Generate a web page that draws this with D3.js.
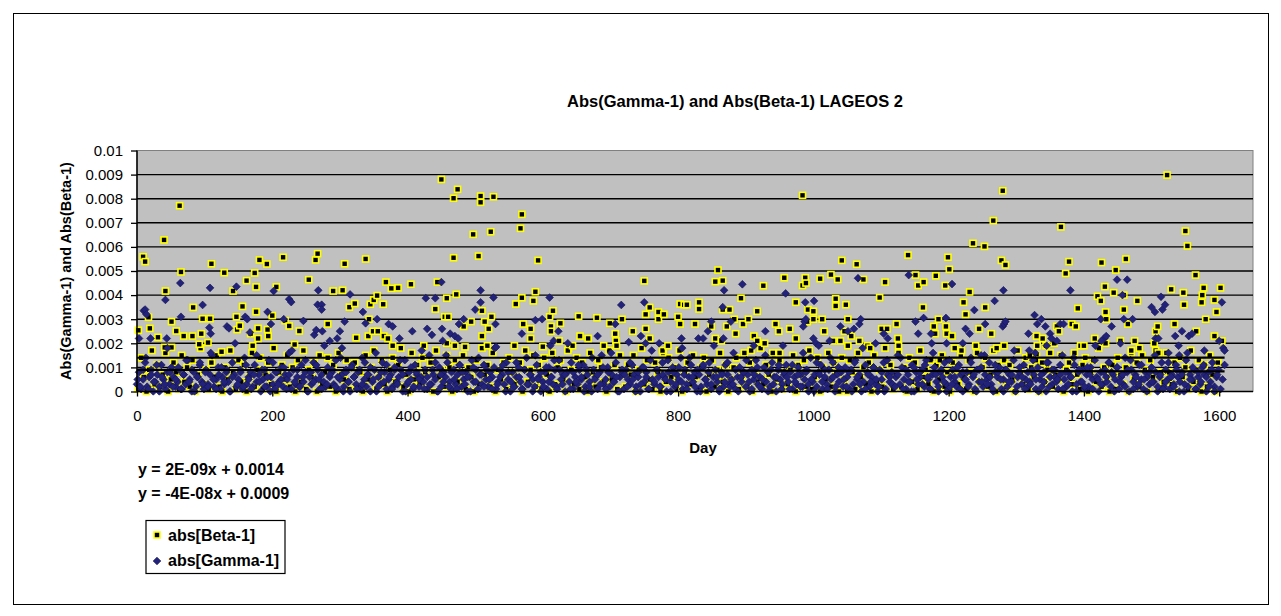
<!DOCTYPE html>
<html><head><meta charset="utf-8">
<script src="https://cdn.jsdelivr.net/npm/d3@7"></script>
<style>body{margin:0;background:#fff}svg{display:block}text{font-family:"Liberation Sans",Arial,sans-serif}</style>
</head><body>
<svg id="chart" width="1281" height="616"></svg>
<script>
// ---------- DATA ----------
const chartTitle = "Abs(Gamma-1) and Abs(Beta-1) LAGEOS 2";
const xTitle = "Day";
const yTitle = "Abs(Gamma-1) and Abs(Beta-1)";
const xTicks = [0,200,400,600,800,1000,1200,1400,1600];
const yTicks = [0,0.001,0.002,0.003,0.004,0.005,0.006,0.007,0.008,0.009,0.01];
const yTickLabels = ["0","0.001","0.002","0.003","0.004","0.005","0.006","0.007","0.008","0.009","0.01"];
const seriesNames = ["abs[Beta-1]","abs[Gamma-1]"];
const trendEquations = ["y = 2E-09x + 0.0014","y = -4E-08x + 0.0009"];
const betaTrend = [2e-9, 0.0014];
const gammaTrend = [-4e-8, 0.0009];

// abs[Beta-1] — clearly readable points (day, value)
const betaHigh = [[2,0.00254],[9,0.00559],[12,0.00539],[17,0.00308],[19,0.00262],[31,0.00225],[40,0.00629],[41,0.00183],[42,0.00417],[51,0.0029],[51,0.00183],[58,0.00251],[63,0.00771],[65,0.00496],[69,0.0023],[82,0.0023],[83,0.00349],[92,0.00196],[95,0.0024],[97,0.00302],[105,0.00203],[108,0.00302],[110,0.0053],[125,0.00165],[129,0.00493],[142,0.00417],[147,0.0031],[148,0.00257],[152,0.00273],[156,0.00353],[162,0.0046],[168,0.0024],[171,0.0019],[174,0.00492],[176,0.00434],[176,0.00331],[179,0.00262],[179,0.0022],[181,0.00546],[192,0.00529],[193,0.00257],[194,0.0023],[200,0.00315],[206,0.00434],[216,0.00557],[219,0.00294],[225,0.00272],[233,0.00195],[240,0.00251],[254,0.00464],[264,0.00546],[267,0.00572],[282,0.0028],[290,0.00417],[304,0.0042],[307,0.0053],[314,0.0035],[322,0.00365],[324,0.00223],[338,0.0055],[342,0.0023],[343,0.003],[345,0.00362],[349,0.0025],[350,0.0038],[355,0.00398],[356,0.0025],[364,0.00362],[365,0.0023],[368,0.00454],[371,0.0022],[376,0.00428],[378,0.0019],[386,0.0043],[405,0.00445],[424,0.0019],[441,0.00342],[444,0.00454],[450,0.0088],[455,0.0031],[458,0.00387],[458,0.002],[460,0.0031],[468,0.00802],[468,0.00555],[470,0.0019],[472,0.00403],[474,0.00839],[483,0.0027],[485,0.00185],[494,0.0029],[497,0.00652],[505,0.00562],[508,0.00811],[508,0.00785],[510,0.00335],[510,0.0023],[514,0.0029],[518,0.0019],[520,0.0026],[523,0.00663],[524,0.0031],[527,0.00808],
[558,0.0019],[560,0.00363],[567,0.00677],[569,0.00735],[569,0.00389],[571,0.0028],[582,0.0026],[582,0.0022],[586,0.00376],[589,0.00414],[593,0.00544],[600,0.00186],[610,0.0031],[612,0.0027],[612,0.0025],[615,0.00335],[624,0.0021],[626,0.00283],[637,0.0017],[644,0.0019],[653,0.00312],[655,0.0023],[667,0.0022],[680,0.00306],[690,0.0019],[699,0.00283],[707,0.0024],[708,0.0021],[709,0.0019],[717,0.003],[733,0.0025],[750,0.00459],[752,0.0032],[752,0.0026],[758,0.00349],[758,0.0022],[771,0.0033],[771,0.003],[777,0.0017],[779,0.0032],[785,0.0019],[800,0.0031],[803,0.00363],[803,0.0028],[809,0.0036],
[813,0.0036],[825,0.0028],[831,0.0037],[831,0.00342],[849,0.0027],[855,0.00456],[855,0.0022],[859,0.00504],[864,0.0021],[866,0.0046],[866,0.0034],[872,0.0027],[876,0.0034],[883,0.003],[885,0.0024],[893,0.00387],[896,0.0028],[904,0.003],[908,0.0017],[912,0.0023],[917,0.00333],[917,0.0021],[926,0.00439],[928,0.002],[940,0.0016],[944,0.0028],[949,0.0025],[950,0.0016],[957,0.00472],[965,0.0026],[974,0.0037],[974,0.0022],[984,0.00814],[984,0.0044],[988,0.00472],[989,0.0045],[991,0.0029],[992,0.0034],[1000,0.00333],[1000,0.003],[1010,0.00468],[1013,0.003],[1016,0.0025],[1026,0.00485],[1029,0.0021],[1033,0.00385],[1033,0.00355],[1036,0.00465],[1040,0.0021],[1042,0.00544],[1046,0.0025],[1048,0.0036],[1051,0.003],[1051,0.0019],[1056,0.0023],[1064,0.00528],[1068,0.0021],[1074,0.00465],[1080,0.0019],[1084,0.0018],
[1098,0.0039],[1101,0.0026],[1106,0.00454],[1109,0.0026],[1123,0.0028],[1125,0.0022],[1126,0.0019],[1140,0.00566],[1151,0.00483],[1155,0.0044],[1162,0.00349],[1163,0.00454],[1178,0.0027],[1180,0.0024],[1181,0.0048],[1185,0.003],[1187,0.0013],[1195,0.0044],[1196,0.0027],[1197,0.0024],[1198,0.0013],[1199,0.00557],[1201,0.00507],[1205,0.0023],[1209,0.0018],[1219,0.0017],[1222,0.0037],[1225,0.0032],[1231,0.00413],[1236,0.00615],[1240,0.0019],[1245,0.0026],[1253,0.00602],[1254,0.00349],[1263,0.0024],[1266,0.00709],[1271,0.0018],[1278,0.00544],[1280,0.00833],[1282,0.0019],[1284,0.00525],[1320,0.0015],[1329,0.0013],[1330,0.0023],[1331,0.0019],[1339,0.0022],[1344,0.0019],[1356,0.002],[1360,0.0027],[1363,0.0025],
[1366,0.00683],[1373,0.0049],[1378,0.00539],[1382,0.0028],[1388,0.0027],[1391,0.00345],[1395,0.0019],[1400,0.0019],[1416,0.0022],[1420,0.00395],[1425,0.00376],[1426,0.00535],[1431,0.00435],[1432,0.0033],[1432,0.002],[1433,0.003],[1444,0.0041],[1447,0.00504],[1454,0.0021],[1459,0.004],[1459,0.0034],[1462,0.0055],[1465,0.0028],[1470,0.0017],[1475,0.0021],[1479,0.00376],[1482,0.0018],[1504,0.002],[1506,0.0025],[1509,0.0027],[1510,0.0016],[1523,0.00898],[1529,0.00424],[1534,0.0028],[1547,0.0041],[1548,0.0036],[1550,0.00666],[1553,0.00604],[1565,0.00483],[1566,0.0025],[1574,0.0037],[1575,0.004],[1577,0.0043],[1580,0.003],[1593,0.0038],[1593,0.0023],[1596,0.0033],[1602,0.0043],[1604,0.0021]];

// abs[Gamma-1] — clearly readable points (day, value)
const gammaHigh = [[3,0.0022],[10,0.00335],[12,0.0034],[14,0.0032],[20,0.0022],[42,0.0038],[44,0.0022],[64,0.0045],[65,0.0031],[97,0.00359],[107,0.00265],[108,0.0043],[109,0.0024],[133,0.0027],[136,0.00262],[147,0.00435],[160,0.0031],[163,0.003],[167,0.00245],[193,0.0033],[198,0.0028],[202,0.00417],[217,0.003],[225,0.00383],[228,0.00371],[246,0.00293],[262,0.00235],[265,0.00255],[268,0.0042],[267,0.0036],[273,0.0036],[273,0.0034],[274,0.0025],[285,0.0021],[296,0.0022],[300,0.0025],[303,0.0018],[307,0.0029],[315,0.00403],[334,0.0033],[338,0.00283],[355,0.003],[372,0.0028],[378,0.0027],[388,0.0022],[407,0.0025],[427,0.00387],[429,0.0026],[436,0.00235],[441,0.00387],[450,0.00454],[451,0.0026],[452,0.0021],[463,0.0024],[470,0.0023],[475,0.0022],[476,0.0028],[483,0.003],[500,0.0034],[508,0.0042],[508,0.0037],[527,0.0039],[530,0.0028],[531,0.00185],
[569,0.0024],[589,0.00296],[599,0.003],[610,0.0039],[611,0.0019],[616,0.0021],[623,0.0025],[681,0.0023],[707,0.0028],[716,0.00359],[727,0.00205],[745,0.0023],[750,0.0037],[752,0.002],[772,0.002],[805,0.0022],[806,0.0018],
[830,0.0022],[837,0.0022],[844,0.0025],[849,0.0029],[866,0.0035],[867,0.0022],[868,0.0042],[878,0.0029],[895,0.00445],[912,0.0019],[929,0.0025],[955,0.0019],[959,0.00407],[985,0.0027],[987,0.0029],[988,0.0037],[989,0.003],[1001,0.00376],[1000,0.0022],[1004,0.002],[1008,0.0019],[1024,0.0021],[1040,0.0027],[1051,0.0025],[1060,0.0026],[1066,0.0047],[1068,0.0028],[1070,0.003],
[1092,0.002],[1104,0.0024],[1110,0.0022],[1141,0.00483],[1151,0.0029],[1155,0.0024],[1163,0.00305],[1174,0.0024],[1175,0.002],[1196,0.00305],[1197,0.002],[1205,0.00446],[1221,0.002],[1225,0.0026],[1231,0.0024],[1238,0.00338],[1248,0.0015],[1254,0.0028],[1268,0.00376],[1280,0.0027],[1282,0.0028],[1284,0.0029],[1281,0.0042],[1318,0.0024],[1319,0.0017],[1327,0.00317],[1328,0.0016],[1331,0.0028],[1337,0.003],[1343,0.0027],[1345,0.0019],[1350,0.0024],[1352,0.0022],[1360,0.0021],[1365,0.0028],[1370,0.0028],[1380,0.0042],[1425,0.003],[1430,0.0022],[1426,0.0021],[1433,0.0023],[1441,0.0027],[1449,0.00464],[1454,0.002],[1457,0.004],[1459,0.003],[1464,0.00464],[1472,0.003],[1500,0.0035],[1505,0.0033],[1506,0.0022],[1510,0.0022],[1514,0.00393],[1516,0.0034],[1520,0.0036],[1525,0.0016],[1535,0.0023],[1540,0.0019],[1541,0.0015],[1545,0.0025],[1555,0.0023],[1560,0.0024],[1578,0.0017],[1600,0.0021],[1604,0.0037],[1606,0.0018],[1608,0.0017]];

// dense low band, read as evenly spaced days, in units of 1e-4
const gammaLowStep = 3, gammaLowStart = 0;
const gammaLow = [3,8,1,5,12,2,6,9,0,4,7,2,11,5,1,8,3,10,6,2,
4,9,1,7,3,13,5,0,8,2,6,11,4,1,9,3,7,15,2,5,
10,1,6,3,8,4,0,12,7,2,5,9,1,14,3,6,8,2,11,4,
7,0,5,9,2,13,6,3,1,8,4,10,2,7,5,16,1,9,3,6,
2,11,4,8,0,6,3,12,5,9,1,7,4,2,10,6,8,3,13,1,
5,7,2,9,4,0,11,6,3,8,1,14,5,2,7,10,4,9,0,6,
3,12,8,1,5,7,2,10,4,6,9,0,13,3,8,5,1,11,7,2,
6,4,9,1,15,3,7,5,0,10,2,8,6,12,4,1,9,3,7,11,
2,5,8,0,6,13,4,9,1,7,3,11,5,2,8,6,10,1,4,9,
7,3,12,5,0,8,2,6,10,4,1,9,14,3,7,5,2,11,6,0,
4,8,1,10,6,3,9,2,13,5,7,0,8,4,12,1,6,3,9,5,
11,2,7,4,0,9,6,1,8,15,3,5,10,2,7,4,12,0,6,8,
1,9,5,3,11,7,2,6,0,10,4,8,1,13,5,3,9,6,2,12,
6,0,8,4,10,2,7,5,14,1,9,3,6,11,4,8,0,7,2,10,
5,3,12,1,6,9,4,0,8,2,11,7,3,5,16,1,6,10,4,8,
2,7,0,9,5,13,3,6,1,10,4,8,2,12,6,0,9,5,3,7,
11,4,8,1,6,3,10,7,2,5,9,0,14,4,7,2,8,11,1,6,
3,9,5,12,0,7,4,8,2,10,6,1,9,3,13,5,7,0,4,11,
8,2,6,10,3,0,9,5,12,1,7,4,8,2,6,15,3,10,5,1,
7,4,11,0,8,3,6,9,2,13,5,1,7,10,4,0,8,6,12,3,
1,6,9,4,2,11,7,0,5,8,3,14,6,1,9,4,10,2,7,5,
12,3,0,8,6,10,1,5,9,2,7,4,13,0,6,8,3,11,5,2,
4,9,7,1,10,5,2,8,0,12,6,3,9,4,1,7,15,5,2,8,
6,0,11,3,8,4,9,1,7,2,10,5,13,6,0,8,3,9,4,12,
2,7,5,10,1,6,3,14,8,0,9,4,7,2,11,5,1,8,6,3,
10,4,8,0,6,12,2,9,5,1,7,3,11,6,4,8,0,13,2,7,
5,9,1,6,3,10,7,0,8,4,12,2,6,9,1,5,11];
const gammaLow2Step = 4, gammaLow2Start = 1;
const gammaLow2 = [5,2,9,14,1,7,4,11,0,6,3,18,8,2,5,10,1,7,13,4,
9,0,6,12,3,8,2,16,5,1,7,10,4,9,0,6,20,3,8,2,
11,5,1,7,15,4,9,2,6,0,12,8,3,5,10,1,7,17,4,9,
2,6,13,0,8,4,11,5,1,19,3,7,9,2,6,14,0,8,4,10,
6,1,9,3,12,7,0,5,16,2,8,4,11,6,1,9,3,13,7,0,
4,10,2,8,5,17,1,6,3,9,12,0,7,4,15,2,8,5,1,11,
8,3,6,0,10,4,14,7,2,9,5,1,18,3,6,11,0,8,4,2,
12,6,1,9,3,7,0,15,5,8,2,10,4,6,13,1,9,3,7,20,
1,8,4,11,6,0,9,2,14,5,7,3,10,1,8,16,4,6,0,9,
7,2,12,5,0,8,3,10,6,1,17,4,9,2,7,5,13,0,8,3,
10,4,7,1,14,6,2,9,0,11,5,8,3,19,6,1,7,4,12,2,
3,9,0,6,8,13,4,1,7,10,2,5,15,0,9,3,6,11,1,8,
6,1,11,4,7,2,16,8,3,5,0,12,7,4,9,1,14,6,2,10,
9,5,2,8,0,12,6,3,18,1,7,4,10,5,2,8,0,13,6,3,
2,7,14,1,9,4,0,10,5,8,3,11,6,1,16,7,2,9,4,0,
13,3,6,10,1,8,5,2,12,7,0,9,4,15,3,6,1,11,8,5,
0,9,4,7,17,2,10,6,1,8,3,13,5,0,7,4,12,2,9,6,
5,11,1,8,3,6,14,0,9,4,2,10,7,1,19,5,3,8,6,12,
8,0,10,4,7,2,9,13,1,6,3,11,5,0,8,4,15,2,7,1,
4,12,6,2,9,0,7,3,16,5,10,1,8,4,11,6,2,9,0,7];
const betaLowStep = 4, betaLowStart = 2;
const betaLow = [1,14,6,0,9,17,3,11,2,7,16,0,5,12,8,1,15,4,10,2,
13,0,7,18,3,9,1,12,6,15,2,0,10,5,17,8,1,13,4,11,
0,6,16,2,9,14,1,7,12,3,18,0,8,11,5,15,2,10,0,13,
4,17,1,9,6,12,0,15,3,8,14,2,11,0,16,7,5,13,1,10,
12,2,8,0,15,5,10,17,1,6,13,3,0,9,14,4,11,18,2,7,
0,16,5,11,3,14,8,1,12,0,17,6,9,2,15,10,0,13,4,8,
15,1,10,6,0,13,3,18,7,11,2,16,0,9,5,12,1,14,8,3,
6,12,0,17,4,9,15,2,11,1,14,7,0,16,3,10,13,5,0,18,
9,3,14,1,12,6,0,16,8,2,13,10,4,0,17,5,11,1,15,7,
2,11,7,15,0,9,18,3,13,5,1,12,8,0,16,4,14,6,10,1,
17,0,8,12,3,15,6,1,10,14,0,7,13,2,9,16,4,11,0,5,
10,14,1,6,16,2,12,0,9,4,18,3,11,7,0,15,5,13,1,8,
3,9,15,0,11,7,13,2,17,1,6,14,0,10,5,16,2,12,8,0,
14,5,0,13,8,1,16,6,10,3,12,0,15,4,9,2,18,7,11,1,
7,16,2,10,0,14,4,12,1,17,6,9,3,13,0,11,5,15,2,8,
0,12,9,3,15,6,1,13,8,0,16,4,10,14,2,7,17,0,11,5,
13,2,11,5,0,17,8,3,14,1,10,6,15,0,12,4,9,16,2,7,
5,15,0,9,12,3,16,7,1,11,14,0,8,13,4,18,2,10,6,0,
11,1,14,7,3,10,0,16,5,12,2,15,9,0,13,6,17,1,8,4,
16,8,3,12,0,14,6,10,1,17,4,9,13,0,11,2,15,7,0,12];

// ---------- BUILD ----------
const beta = betaLow.map((v,i)=>[betaLowStart+i*betaLowStep, v*1e-4]).concat(betaHigh);
const gamma = gammaLow.map((v,i)=>[gammaLowStart+i*gammaLowStep, v*1e-4])
  .concat(gammaLow2.map((v,i)=>[gammaLow2Start+i*gammaLow2Step, v*1e-4]))
  .concat(gammaHigh);

const svg = d3.select("#chart");
const font = '"Liberation Sans",Arial,sans-serif';
const P = {l:137, r:1253, t:150.5, b:391.5};
const x = d3.scaleLinear().domain([0,1650]).range([P.l,P.r]);
const y = d3.scaleLinear().domain([0,0.01]).range([P.b,P.t]);

// outer frame
svg.append("rect").attr("x",13.5).attr("y",13.5).attr("width",1255).attr("height",591)
  .attr("fill","#fff").attr("stroke","#000").attr("stroke-width",1);

// plot area
svg.append("rect").attr("x",P.l).attr("y",P.t).attr("width",P.r-P.l).attr("height",P.b-P.t)
  .attr("fill","#C0C0C0").attr("stroke","#808080").attr("stroke-width",1);

// gridlines
svg.append("g").selectAll("line").data(yTicks.slice(1,-1)).join("line")
  .attr("x1",P.l).attr("x2",P.r).attr("y1",d=>y(d)).attr("y2",d=>y(d))
  .attr("stroke","#000").attr("stroke-width",1.4);

// clip
svg.append("clipPath").attr("id","clip").append("rect")
  .attr("x",P.l-6).attr("y",P.t-6).attr("width",P.r-P.l+12).attr("height",P.b-P.t+10);

const marks = svg.append("g").attr("clip-path","url(#clip)");

// beta squares
marks.append("g").selectAll("rect").data(beta).join("rect")
  .attr("x",d=>x(d[0])-3).attr("y",d=>y(d[1])-3).attr("width",6).attr("height",6)
  .attr("fill","#000").attr("stroke","#FFFF00").attr("stroke-width",1.6);

// gamma diamonds
const diamond = d3.symbol().type(d3.symbolSquare).size(30);
marks.append("g").selectAll("path").data(gamma).join("path")
  .attr("d",diamond)
  .attr("transform",d=>`translate(${x(d[0])},${y(d[1])}) rotate(45)`)
  .attr("fill","#22227A").attr("stroke","#141455").attr("stroke-width",0.6);

// trendlines
const allDays = beta.concat(gamma).map(d=>d[0]);
const dx = d3.extent(allDays);
[betaTrend,gammaTrend].forEach(t=>{
  svg.append("line").attr("x1",x(dx[0])).attr("x2",x(dx[1]))
    .attr("y1",y(t[0]*dx[0]+t[1])).attr("y2",y(t[0]*dx[1]+t[1]))
    .attr("stroke","#000").attr("stroke-width",2.2);
});

// axes
const yAxis = svg.append("g").attr("transform",`translate(${P.l},0)`)
  .call(d3.axisLeft(y).tickValues(yTicks).tickFormat((d,i)=>yTickLabels[i]).tickSize(6).tickSizeOuter(0).tickPadding(8));
const xAxis = svg.append("g").attr("transform",`translate(0,${P.b})`)
  .call(d3.axisBottom(x).tickValues(xTicks).tickFormat(d3.format("d")).tickSize(5).tickSizeOuter(0).tickPadding(14));
[yAxis,xAxis].forEach(g=>{
  g.select(".domain").attr("stroke","#000").attr("stroke-width",1.5);
  g.selectAll(".tick line").attr("stroke","#000").attr("stroke-width",1.3);
  g.selectAll("text").attr("font-family",font).attr("font-size",15).attr("fill","#000");
});
xAxis.select(".domain").attr("d",`M${P.l},0H${P.r}`);
yAxis.select(".domain").attr("d",`M0,${P.b}V${P.t}`);

// titles
svg.append("text").attr("x",735).attr("y",107).attr("text-anchor","middle")
  .attr("font-family",font).attr("font-weight","bold").attr("font-size",16.5).text(chartTitle);
svg.append("text").attr("x",703).attr("y",453).attr("text-anchor","middle")
  .attr("font-family",font).attr("font-weight","bold").attr("font-size",15).text(xTitle);
svg.append("text").attr("transform","translate(71,271) rotate(-90)").attr("text-anchor","middle")
  .attr("font-family",font).attr("font-weight","bold").attr("font-size",14.5).text(yTitle);

// trend equations
trendEquations.forEach((t,i)=>{
  svg.append("text").attr("x",138).attr("y",475+i*23.5)
    .attr("font-family",font).attr("font-weight","bold").attr("font-size",16).text(t);
});

// legend
const lg = svg.append("g");
lg.append("rect").attr("x",146).attr("y",520.5).attr("width",139).attr("height",53)
  .attr("fill","#fff").attr("stroke","#000").attr("stroke-width",1.2);
lg.append("rect").attr("x",154).attr("y",532).attr("width",6).attr("height",6)
  .attr("fill","#000").attr("stroke","#FFFF00").attr("stroke-width",1.6);
lg.append("path").attr("d",diamond).attr("transform","translate(157,561) rotate(45)")
  .attr("fill","#22227A").attr("stroke","#141455").attr("stroke-width",0.6);
seriesNames.forEach((n,i)=>{
  lg.append("text").attr("x",168).attr("y",541+i*25)
    .attr("font-family",font).attr("font-weight","bold").attr("font-size",16).text(n);
});
</script>
</body></html>
